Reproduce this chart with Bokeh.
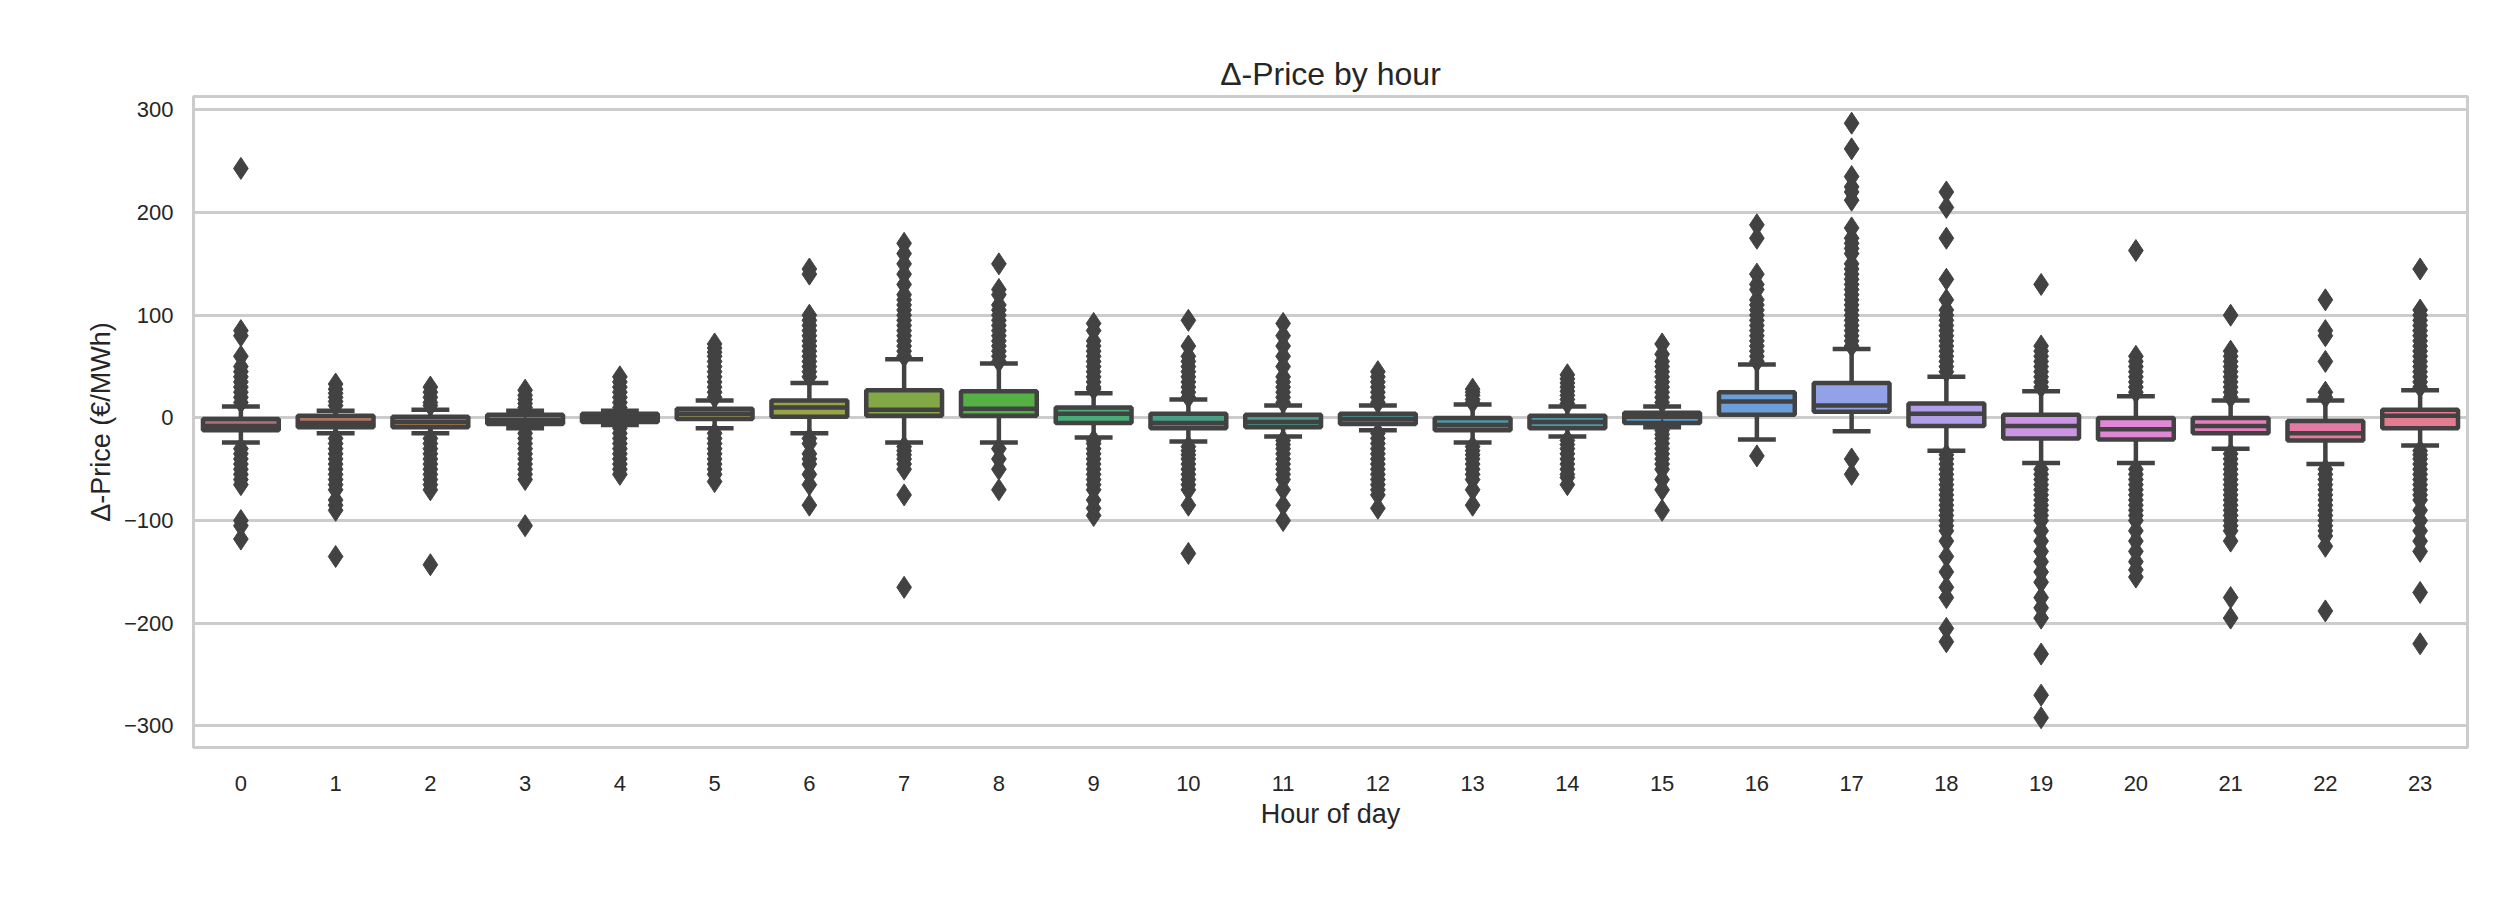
from bokeh.embed import file_html
from bokeh.models import ColumnDataSource, Range1d, FixedTicker
from bokeh.plotting import figure
from bokeh.resources import INLINE

# box statistics per hour (€/MWh)
hours = list(range(24))
q1 = [-12, -9, -9, -6, -4, -1, 1, 2, 2, -5, -10, -9, -6, -12, -10, -5, 3, 6, -8, -20, -21, -15, -22, -10]
median = [-8, -5, -4, -2, 0, 4, 10, 8, 9, 4, -5, -4, -1, -7, -4, 1, 16, 12, 4, -8, -11, -8, -15, 2]
q3 = [-1, 2, 1, 3, 4, 9, 17, 27, 26, 10, 4, 3, 4, 0, 2, 5, 25, 34, 14, 3, 0, 0, -3, 8]
whisk_lo = [-24, -15, -15, -10, -7, -10, -15, -24, -24, -19, -23, -18, -12, -24, -18, -9, -21, -13, -32, -44, -44, -30, -45, -27]
whisk_hi = [11, 7, 8, 7, 7, 17, 34, 57, 53, 24, 18, 12, 12, 13, 11, 11, 52, 67, 40, 26, 21, 17, 17, 27]
outliers = [
    [243, 85, 80, 60, 50, 45, 40, 35, 30, 25, 20, 15, -30, -35, -40, -45, -50, -55, -60, -65, -100, -105, -118],
    [33, 28, 24, 20, 16, 12, -20, -25, -30, -35, -40, -45, -50, -55, -60, -65, -70, -80, -85, -90, -135],
    [30, 25, 20, 15, 12, -20, -25, -30, -35, -40, -45, -50, -55, -60, -65, -70, -143],
    [27, 22, 18, 14, 10, -15, -20, -25, -30, -35, -40, -45, -50, -55, -60, -105],
    [40, 35, 30, 25, 20, 15, 10, -10, -15, -20, -25, -30, -35, -40, -45, -50, -55],
    [72, 68, 64, 60, 55, 50, 45, 40, 35, 30, 25, 20, -15, -20, -25, -30, -35, -40, -45, -50, -55, -62],
    [145, 140, 100, 95, 90, 85, 80, 75, 70, 65, 60, 55, 50, 45, 40, -20, -25, -35, -40, -45, -55, -65, -85],
    [170, 160, 150, 140, 130, 120, 115, 110, 105, 100, 95, 90, 85, 80, 75, 70, 65, 60, -28, -32, -36, -40, -45, -50, -75, -165],
    [150, 125, 120, 110, 105, 100, 95, 90, 85, 80, 75, 70, 65, 60, 55, -30, -40, -50, -70],
    [92, 85, 75, 70, 65, 60, 55, 50, 45, 40, 35, 30, 28, -22, -25, -30, -35, -40, -45, -50, -55, -60, -65, -70, -80, -88, -95],
    [95, 70, 60, 55, 50, 45, 40, 35, 30, 25, 20, -28, -32, -36, -40, -45, -50, -55, -60, -65, -70, -85, -132],
    [92, 80, 70, 60, 50, 40, 35, 30, 25, 20, 15, -22, -26, -30, -35, -40, -45, -50, -55, -60, -70, -85, -100],
    [45, 40, 35, 30, 25, 20, 15, -15, -20, -25, -30, -35, -40, -45, -50, -55, -60, -65, -70, -75, -88],
    [28, 25, 22, 18, 15, -28, -32, -36, -40, -45, -50, -55, -60, -70, -85],
    [42, 38, 34, 30, 26, 22, 18, 14, -22, -26, -30, -35, -40, -45, -50, -55, -58, -65],
    [72, 62, 55, 50, 45, 40, 35, 30, 25, 20, 15, -12, -16, -20, -25, -30, -35, -40, -45, -50, -60, -70, -90],
    [188, 175, 140, 130, 125, 115, 110, 105, 100, 95, 90, 85, 80, 75, 70, 65, 60, 55, -37],
    [287, 262, 235, 225, 220, 212, 185, 175, 170, 165, 160, 150, 145, 140, 135, 130, 125, 120, 115, 110, 105, 100, 95, 90, 85, 80, 75, 70, -40, -55],
    [220, 205, 175, 135, 115, 105, 100, 95, 90, 85, 80, 75, 70, 65, 60, 55, 50, 45, -36, -40, -45, -50, -55, -60, -65, -70, -75, -80, -85, -90, -95, -100, -105, -110, -120, -135, -150, -165, -175, -205, -218],
    [130, 70, 65, 60, 55, 50, 45, 40, 35, 30, -50, -55, -60, -65, -70, -75, -80, -85, -90, -95, -100, -110, -120, -130, -140, -150, -160, -175, -185, -195, -230, -270, -292],
    [163, 60, 55, 50, 45, 40, 35, 30, 25, -50, -55, -60, -65, -70, -75, -80, -85, -90, -95, -100, -110, -120, -130, -140, -148, -155],
    [100, 65, 60, 55, 50, 45, 40, 35, 30, 25, 20, -35, -40, -45, -50, -55, -60, -65, -70, -75, -80, -85, -90, -95, -100, -105, -110, -120, -175, -195],
    [115, 85, 80, 55, 25, 20, -50, -55, -60, -65, -70, -75, -80, -85, -90, -95, -100, -105, -110, -115, -125, -188],
    [145, 105, 100, 95, 90, 85, 80, 75, 70, 65, 60, 55, 50, 45, 40, 35, 30, -32, -36, -40, -45, -50, -55, -60, -65, -70, -75, -80, -90, -100, -110, -120, -130, -170, -220],
]
box_colors = ["#b3707c", "#b07562", "#a97d55", "#a08553", "#988b52", "#939052", "#97a346", "#83a946",
              "#55b046", "#46ad78", "#479f86", "#489a91", "#49989a", "#4a97a3", "#4b96ad", "#4f9dd1",
              "#6a9fdb", "#93a2e8", "#b19de8", "#cc94e4", "#e187d6", "#e47fbf", "#e47aa3", "#e37c91"]

EDGE = "#424242"
w = 0.8

box_src = ColumnDataSource(dict(
    left=[h - w / 2 for h in hours], right=[h + w / 2 for h in hours],
    q1=q1, q3=q3, med=median, lo=whisk_lo, hi=whisk_hi, color=box_colors,
    ml=[h - w / 2 for h in hours], mr=[h + w / 2 for h in hours],
    cl=[h - w / 4 for h in hours], cr=[h + w / 4 for h in hours], x=hours,
))
ox, oy = [], []
for h, vals in zip(hours, outliers):
    ox += [h] * len(vals)
    oy += vals

p = figure(width=2500, height=880, output_backend="svg", toolbar_location=None,
           x_range=Range1d(-0.5, 23.5), y_range=Range1d(-321, 313),
           title="Δ-Price by hour", min_border_left=193, min_border_right=33,
           min_border_top=96, min_border_bottom=133)
p.title.align = "center"
p.title.text_font = "Liberation Sans"
p.title.text_font_size = "32px"
p.title.text_font_style = "normal"
p.title.text_color = "#262626"

p.outline_line_color = "#cccccc"
p.outline_line_width = 3
p.xgrid.grid_line_color = None
p.ygrid.grid_line_color = "#cccccc"
p.ygrid.grid_line_width = 3

for ax in (p.xaxis, p.yaxis):
    ax.axis_line_color = None
    ax.major_tick_line_color = None
    ax.minor_tick_line_color = None
    ax.major_label_text_font = "Liberation Sans"
    ax.major_label_text_font_size = "22px"
    ax.major_label_text_color = "#262626"
    ax.axis_label_text_font = "Liberation Sans"
    ax.axis_label_text_font_size = "27px"
    ax.axis_label_text_font_style = "normal"
    ax.axis_label_text_color = "#262626"
p.xaxis.ticker = FixedTicker(ticks=hours)
p.yaxis.ticker = FixedTicker(ticks=[-300, -200, -100, 0, 100, 200, 300])
p.xaxis.axis_label = "Hour of day"
p.yaxis.axis_label = "Δ-Price (€/MWh)"
p.xaxis.major_label_standoff = 22
p.yaxis.major_label_standoff = 14

p.segment(x0="x", y0="lo", x1="x", y1="q1", line_color=EDGE, line_width=4.5, source=box_src)
p.segment(x0="x", y0="q3", x1="x", y1="hi", line_color=EDGE, line_width=4.5, source=box_src)
p.segment(x0="cl", y0="lo", x1="cr", y1="lo", line_color=EDGE, line_width=4.5, source=box_src)
p.segment(x0="cl", y0="hi", x1="cr", y1="hi", line_color=EDGE, line_width=4.5, source=box_src)
p.quad(left="left", right="right", bottom="q1", top="q3", fill_color="color",
       line_color=EDGE, line_width=4.5, source=box_src)
p.segment(x0="ml", y0="med", x1="mr", y1="med", line_color=EDGE, line_width=4.5, source=box_src)
p.scatter(ox, oy, marker="diamond", size=22, fill_color=EDGE, line_color=EDGE)

open("out.html", "w").write(file_html(p, INLINE))
